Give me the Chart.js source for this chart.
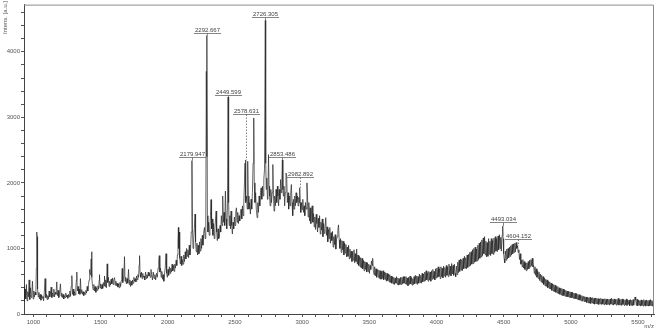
<!DOCTYPE html>
<html>
<head>
<meta charset="utf-8">
<script src="https://cdn.jsdelivr.net/npm/chart.js@4.4.0/dist/chart.umd.min.js"></script>
<style>
  html, body { margin: 0; padding: 0; background: #fff; }
  #caixa { width: 657px; height: 329px; position: relative; }
</style>
</head>
<body>
<div id="caixa"><canvas id="espectro"></canvas></div>
<script>
// espectro: pares [m/z, intensidade]
const faixa1 = [
  [930,420],[933,190],[938,380],[943,230],[948,450],[953,200],[958,340],[963,260],[968,520],
  [973,220],[978,400],[983,250],[988,300],[993,500],[998,230],[1003,350],[1008,260],[1013,330],[1018,290],
  [1022,700],[1025,1250],[1028,1180],[1031,380],[1036,260],[1041,330],[1046,230],[1051,300],[1056,210],[1061,290],
  [1066,240],[1071,270],[1076,200],[1081,330],[1087,540],[1092,250],[1097,300],[1102,220],[1107,280],[1112,230],
  [1117,350],[1122,260],[1127,300],[1132,410],[1137,250],[1142,320],[1147,270],[1152,380],[1157,260],[1162,330],
  [1168,300],[1174,490],[1179,280],[1184,360],[1189,250],[1195,330],[1201,460],[1206,270],[1211,320],[1216,250],
  [1221,300],[1226,230],[1231,280],[1236,250],[1241,320],[1246,260],[1251,290],[1256,240],[1261,300],[1266,260],
  [1271,350],[1276,270],[1281,420],[1286,585],[1291,300],[1296,380],[1301,280],[1306,340],[1311,290],[1316,400],
  [1320,520],[1323,640],[1327,350],[1332,420],[1337,310],[1342,380],[1346,300],[1350,540],[1355,320],[1360,370],
  [1365,300],[1370,340],[1375,280],[1380,330],[1385,300],[1390,360],[1395,320],[1400,420],[1405,350],[1410,450],
  [1415,520],[1419,680],[1423,600],[1427,700],[1430,840],[1433,950],[1436,560],[1440,420],[1445,370],[1450,450],
  [1455,350],[1460,420],[1465,330],[1470,400],[1475,360],[1480,430],[1485,380],[1490,520],[1492,600],[1496,400],
  [1501,460],[1506,380],[1511,450],[1516,390],[1521,480],[1526,430],[1529,580],[1533,420],[1538,520],[1543,400],
  [1549,765],[1553,480],[1558,560],[1563,420],[1568,500],[1573,440],[1578,530],[1583,460],[1588,550],[1593,450],
  [1598,520],[1604,555],[1609,440],[1614,500],[1619,430],[1624,470],[1629,410],[1634,460],[1639,400],[1644,480],
  [1649,420],[1654,510],[1658,600],[1661,695],[1665,480],[1670,560],[1674,620],[1678,875],[1682,500],[1687,560],
  [1692,460],[1697,540],[1702,470],[1708,680],[1713,450],[1718,520],[1723,420],[1728,500],[1733,440],[1738,520],
  [1743,470],[1748,560],[1753,500],[1758,540],[1763,490],[1768,580],[1773,520],[1778,600],[1783,560],[1787,750],
  [1790,890],[1794,620],[1799,560],[1804,640],[1809,540],[1814,620],[1819,560],[1824,580],[1829,520],[1835,640],
  [1840,540],[1845,600],[1850,550],[1855,640],[1860,580],[1865,620],[1870,560],[1875,680]
];

const faixa2 = [
  [1880,600],[1886,520],[1892,640],[1898,540],[1904,600],[1910,520],[1916,620],[1922,560],[1928,700],[1933,820],
  [1937,890],[1941,640],[1946,700],[1951,560],[1956,650],[1961,530],[1966,600],[1971,500],[1976,620],[1981,700],
  [1987,920],[1992,620],[1997,560],[2002,680],[2007,590],[2012,720],[2017,620],[2022,700],[2027,640],[2032,760],
  [2037,660],[2042,740],[2047,650],[2052,760],[2057,700],[2062,820],[2067,740],[2072,900],[2076,1100],[2079,1320],
  [2082,1000],[2085,1250],[2089,850],[2094,760],[2099,880],[2104,740],[2109,830],[2114,760],[2119,900],[2124,800],
  [2130,950],[2135,840],[2140,1000],[2145,880],[2150,980],[2155,860],[2160,1050],[2165,900],[2170,1000],[2175,1250],
  [2180,2340],[2184,1300],[2188,1000],[2193,1150],[2198,1300],[2203,1525],[2207,1100],[2212,950],[2217,1080],[2222,900],
  [2227,1050],[2232,920],[2237,1100],[2242,960],[2247,1150],[2252,1000],[2257,1200],[2262,1050],[2268,1250],[2273,1320],
  [2278,1150],[2283,1400],[2287,3700],[2290,2400],[2292,4250],[2295,1500],[2299,1250],[2304,1400],[2309,1200],[2314,1350],
  [2318,1500],[2322,1745],[2326,1300],[2331,1450],[2336,1200],[2341,1380],[2346,1150],[2351,1300],[2356,1450],[2360,1570],
  [2364,1250],[2369,1120],[2374,1300],[2379,1150],[2384,1170],[2389,1350],[2394,1250],[2399,1500],[2404,1350],[2409,1800],
  [2414,1400],[2419,1550],[2424,1350],[2429,1875],[2434,1450],[2439,1300],[2444,1600],[2449,3310],[2453,1700],[2457,1350],
  [2462,1500],[2467,1300],[2471,1570],[2476,1350],[2481,1220],[2486,1400],[2491,1300],[2496,1480],[2501,1350],[2506,1550],
  [2511,1620],[2516,1400],[2521,1550],[2526,1380],[2531,1500],[2536,1420],[2541,1550],[2546,1600],[2551,1450],[2556,1650],
  [2561,1500],[2566,1700],[2571,2000],[2575,2300],[2578,2350],[2582,1700],[2587,1800],[2591,1600],[2595,2330],[2599,1800],
  [2604,1600],[2609,1700],[2615,1525],[2620,1750],[2625,1600],[2630,1850],[2635,2300],[2640,2990],[2644,2000],[2649,1700],
  [2654,1850],[2659,1600],[2665,1470],[2670,1700],[2675,1550],[2680,1800],[2685,1650],[2690,1850],[2695,1925],[2700,1750],
  [2705,1950],[2710,1800],[2715,2050],[2720,2200],[2726,4480],[2729,2300],[2733,1900],[2737,2075],[2742,1750],[2746,1900],
  [2750,2430],[2754,1950],[2758,1800],[2762,1650],[2767,1900],[2772,1700],[2777,1850],[2782,2280],[2786,1850],[2791,1570],
  [2796,1800],[2801,1650],[2806,1900],[2811,1700],[2816,1950],[2820,1800],[2825,1650],[2830,1900]
];

const faixa3 = [
  [2835,1750],[2840,2050],[2845,1850],[2849,2000],[2853,2350],[2857,1900],[2861,1800],[2865,1950],[2870,1650],[2875,1850],
  [2880,2150],[2885,2120],[2890,1700],[2895,1850],[2900,1600],[2905,1800],[2910,1650],[2915,1850],[2920,1975],[2925,1700],
  [2930,1500],[2935,1750],[2940,1600],[2945,1800],[2950,1650],[2955,1850],[2960,1700],[2965,1800],[2970,1650],[2975,1780],
  [2979,1700],[2982,1925],[2986,1700],[2990,1550],[2995,1700],[3000,1595],[3005,1750],[3010,1550],[3015,1650],[3020,1500],
  [3025,1700],[3030,1600],[3036,2000],[3040,1800],[3045,1480],[3050,1700],[3055,1420],[3060,1620],[3065,1380],[3070,1560],
  [3075,1650],[3080,1400],[3085,1530],[3090,1330],[3095,1480],[3100,1290],[3105,1520],[3110,1380],[3115,1250],[3120,1460],
  [3125,1320],[3130,1500],[3135,1220],[3140,1400],[3145,1280],[3150,1450],[3155,1180],[3160,1380],[3165,1230],[3170,1300],
  [3176,1470],[3181,1200],[3186,1330],[3191,1100],[3196,1290],[3201,1150],[3206,1320],[3211,1080],[3216,1240],[3221,1120],
  [3226,1260],[3231,1020],[3236,1180],[3241,1060],[3246,1210],[3251,990],[3256,1130],[3261,1180],[3266,1280],[3271,1360],
  [3276,1130],[3281,1000],[3286,1150],[3291,940],[3296,1120],[3301,980],[3306,1110],[3311,900],[3316,1080],[3321,930],
  [3326,1060],[3331,870],[3336,1020],[3341,880],[3346,1050],[3351,840],[3356,990],[3361,860],[3366,960],[3371,800],
  [3376,950],[3381,820],[3386,980],[3391,780],[3396,920],[3401,800],[3406,990],[3411,760],[3416,900],[3421,740],
  [3426,880],[3431,720],[3436,860],[3441,700],[3446,850],[3451,690],[3456,820],[3461,660],[3466,800],[3471,680],
  [3476,790],[3481,640],[3486,780],[3491,650],[3496,760],[3501,620],[3506,740],[3511,680],[3516,810],[3521,740],
  [3525,850],[3530,660],[3535,600],[3540,720],[3545,580],[3550,690],[3555,560],[3562,680],[3567,560],[3572,670],
  [3577,540],[3582,660],[3587,530],[3592,650],[3597,540],[3602,660],[3607,520],[3612,640],[3617,530],[3622,630],
  [3627,500],[3632,620],[3637,510],[3642,610],[3647,490],[3652,600],[3657,480],[3662,580],[3667,470],[3672,570],
  [3677,460],[3682,560],[3687,450],[3692,550],[3698,470],[3703,570],[3708,450],[3713,550],[3718,440],[3723,540],
  [3728,450],[3733,560],[3738,450],[3743,560],[3748,460],[3753,570],[3758,470],[3763,570]
];

const faixa4 = [
  [3768,460],[3773,570],[3778,450],[3783,550],[3788,430],[3793,560],[3798,450],[3803,580],[3808,460],[3813,560],
  [3818,440],[3823,540],[3828,450],[3833,570],[3838,460],[3843,590],[3848,470],[3853,580],[3858,450],[3863,570],
  [3868,470],[3873,610],[3878,480],[3883,590],[3888,470],[3893,620],[3898,490],[3903,610],[3908,500],[3913,640],
  [3918,510],[3923,660],[3928,520],[3933,630],[3938,500],[3943,650],[3948,520],[3953,640],[3958,500],[3963,660],
  [3968,530],[3973,680],[3978,540],[3983,650],[3988,520],[3993,690],[3998,550],[4003,700],[4008,560],[4013,720],
  [4018,570],[4023,690],[4028,540],[4033,720],[4038,570],[4043,700],[4048,550],[4053,730],[4058,580],[4063,710],
  [4068,560],[4073,740],[4078,590],[4083,720],[4088,570],[4093,760],[4098,600],[4103,730],[4108,580],[4113,770],
  [4118,610],[4123,740],[4128,590],[4133,760],[4138,620],[4143,570],[4148,730],[4153,600],[4158,790],[4163,630],
  [4168,820],[4173,650],[4178,840],[4183,670],[4188,830],[4193,660],[4198,850],[4203,690],[4208,880],[4213,700],
  [4218,860],[4223,690],[4228,900],[4233,710],[4238,910],[4243,730],[4248,940],[4253,740],[4258,950],[4263,760],
  [4268,980],[4273,770],[4278,1000],[4283,790],[4288,1020],[4293,800],[4298,990],[4303,810],[4308,1050],[4313,830],
  [4318,1080],[4323,850],[4328,1100],[4333,870],[4338,1130],[4343,890],[4348,1160],[4353,920],[4358,1180],[4363,900],
  [4368,1110],[4373,870],[4378,1090],[4383,880],[4388,1150],[4393,910],[4398,1110],[4403,890],[4408,1150],[4413,920],
  [4418,1120],[4423,910],[4428,1160],[4433,940],[4438,1180],[4443,960],[4448,1150],[4453,950],[4458,1190],[4463,980],
  [4468,1210],[4473,1000],[4478,1170],[4483,960],[4488,1200],[4493,1340],[4496,1150],[4500,920],[4504,840],[4508,780],
  [4513,960],[4518,820],[4523,990],[4528,840],[4533,1000],[4538,860],[4543,1020],[4548,880],[4553,1040],[4558,900],
  [4563,1060],[4568,920],[4573,1070],[4578,940],[4583,1080],[4588,950],[4593,1090],[4598,1000],[4604,1040],[4608,940],
  [4613,980],[4618,830],[4623,920],[4628,760],[4633,820],[4638,720],[4643,830],[4648,700],[4653,800],[4658,680],
  [4663,780],[4668,660],[4673,780],[4678,680],[4683,800],[4688,690],[4693,820],[4698,720],[4703,830],[4708,740],
  [4713,850],[4718,720]
];

const faixa5 = [
  [4723,740],[4728,620],[4733,720],[4738,590],[4743,690],[4748,560],[4753,660],[4758,540],[4763,640],[4768,510],
  [4773,610],[4778,490],[4783,590],[4788,470],[4793,570],[4798,450],[4803,550],[4808,430],[4813,530],[4818,420],
  [4823,520],[4828,400],[4833,500],[4838,390],[4843,490],[4848,380],[4853,470],[4858,360],[4863,460],[4868,350],
  [4873,450],[4878,340],[4883,440],[4888,330],[4893,420],[4898,320],[4903,420],[4908,310],[4913,400],[4918,300],
  [4923,390],[4928,290],[4933,390],[4938,280],[4943,380],[4948,280],[4953,370],[4958,270],[4963,360],[4968,265],
  [4973,350],[4978,260],[4983,345],[4988,255],[4993,340],[4998,250],[5003,335],[5008,245],[5013,330],[5018,240],
  [5023,320],[5028,235],[5033,315],[5038,230],[5043,310],[5048,225],[5053,300],[5058,215],[5063,295],[5068,210],
  [5073,285],[5078,200],[5083,280],[5088,195],[5093,270],[5098,190],[5103,265],[5108,185],[5113,260],[5118,175],
  [5123,255],[5128,170],[5133,250],[5138,165],[5143,255],[5148,160],[5153,245],[5158,170],[5163,250],[5168,155],
  [5173,240],[5178,150],[5183,245],[5188,160],[5193,240],[5198,150],[5203,235],[5208,145],[5213,230],[5218,155],
  [5223,240],[5228,145],[5233,230],[5238,150],[5243,225],[5248,140],[5253,235],[5258,150],[5263,225],[5268,140],
  [5273,230],[5278,150],[5283,225],[5288,135],[5293,230],[5298,150],[5303,240],[5308,145],[5313,225],[5318,135],
  [5323,230],[5328,150],[5333,220],[5338,135],[5343,225],[5348,145],[5353,240],[5358,135],[5363,220],[5368,140],
  [5373,225],[5378,130],[5383,230],[5388,145],[5393,220],[5398,130],[5403,215],[5408,140],[5413,230],[5418,130],
  [5423,215],[5428,145],[5433,210],[5438,125],[5443,220],[5448,135],[5453,210],[5458,125],[5463,220],[5468,135],
  [5473,215],[5478,260],[5483,210],[5488,130],[5493,225],[5498,125],[5503,210],[5508,135],[5513,205],[5518,120],
  [5523,215],[5528,130],[5533,205],[5538,120],[5543,220],[5548,130],[5553,205],[5558,120],[5563,215],[5568,130],
  [5573,205],[5578,120],[5583,210],[5588,125],[5593,220],[5598,130],[5603,205],[5608,120],[5613,200],[5618,135]
];

// rótulos dos picos
const picoRotulos = ['2179.947', '2292.667', '2449.599', '2578.631', '2726.305', '2853.486', '2982.892', '4493.034', '4604.152'];
const picoTopo = [2340, 4250, 3310, 2350, 4480, 2350, 1925, 1340, 1040];
const picoLinhaRotulo = [2400, 4290, 3340, 3050, 4530, 2390, 2085, 1405, 1150];
const picoTracejado = [false, false, false, true, false, false, true, false, true];

const fonte = '"Liberation Sans", Arial, sans-serif';

const espectro = faixa1.concat(faixa2, faixa3, faixa4, faixa5).map(p => ({ x: p[0], y: p[1] }));

// desenha moldura, rótulos dos picos e títulos dos eixos
const extras = {
  id: 'extras',
  afterDatasetsDraw(chart) {
    const { ctx, chartArea: a, scales: { x, y } } = chart;
    ctx.save();

    ctx.strokeStyle = '#8c8c8c';
    ctx.lineWidth = 1;
    ctx.beginPath();
    ctx.moveTo(a.left, a.top + 0.5);
    ctx.lineTo(a.right - 0.5, a.top + 0.5);
    ctx.lineTo(a.right - 0.5, a.bottom);
    ctx.stroke();

    ctx.font = '6px ' + fonte;
    ctx.textAlign = 'center';
    ctx.textBaseline = 'alphabetic';
    for (let i = 0; i < picoRotulos.length; i++) {
      const px = Math.round(x.getPixelForValue(parseFloat(picoRotulos[i]))) + 0.5;
      const ly = Math.round(y.getPixelForValue(picoLinhaRotulo[i])) + 0.5;
      const py = y.getPixelForValue(picoTopo[i]);
      const w = ctx.measureText(picoRotulos[i]).width;
      ctx.fillStyle = '#444';
      ctx.fillText(picoRotulos[i], px, ly - 1.5);
      ctx.strokeStyle = '#666';
      ctx.lineWidth = 0.8;
      ctx.setLineDash([]);
      ctx.beginPath();
      ctx.moveTo(px - w / 2 - 1, ly);
      ctx.lineTo(px + w / 2 + 1, ly);
      ctx.stroke();
      ctx.setLineDash(picoTracejado[i] ? [1.5, 1.5] : []);
      ctx.beginPath();
      ctx.moveTo(px, ly);
      ctx.lineTo(px, py);
      ctx.stroke();
    }
    ctx.setLineDash([]);

    ctx.fillStyle = '#555';
    ctx.font = '6px ' + fonte;
    ctx.textAlign = 'right';
    ctx.textBaseline = 'bottom';
    ctx.fillText('m/z', a.right, 329);

    ctx.translate(5, 1);
    ctx.rotate(-Math.PI / 2);
    ctx.textAlign = 'right';
    ctx.textBaseline = 'middle';
    ctx.fillText('Intens. [a.u.]', 0, 0);

    ctx.restore();
  }
};

new Chart(document.getElementById('espectro'), {
  type: 'line',
  data: {
    datasets: [{
      label: 'espectro',
      data: espectro,
      borderColor: '#262626',
      borderWidth: 0.7,
      pointRadius: 0,
      tension: 0,
      fill: false
    }]
  },
  options: {
    responsive: true,
    maintainAspectRatio: false,
    animation: false,
    devicePixelRatio: 1,
    layout: { padding: { top: 1, right: 3, left: 0, bottom: 0 } },
    plugins: { legend: { display: false }, tooltip: { enabled: false } },
    scales: {
      x: {
        type: 'linear',
        min: 930,
        max: 5619,
        afterFit: s => { s.height = 15; },
        border: { display: true, color: '#444', width: 1 },
        grid: { drawOnChartArea: false, drawTicks: true, tickLength: 3, color: '#555' },
        ticks: {
          stepSize: 100,
          includeBounds: false,
          autoSkip: false,
          maxTicksLimit: 100,
          maxRotation: 0,
          minRotation: 0,
          padding: 2,
          color: '#555',
          font: { size: 6, family: fonte },
          callback: v => (v % 500 === 0 ? String(v) : '')
        }
      },
      y: {
        min: 0,
        max: 4720,
        afterFit: s => { s.width = 24; },
        border: { display: true, color: '#444', width: 1 },
        grid: { drawOnChartArea: false, drawTicks: true, tickLength: 3, color: '#555' },
        ticks: {
          stepSize: 200,
          includeBounds: false,
          autoSkip: false,
          maxTicksLimit: 100,
          padding: 1,
          color: '#555',
          font: { size: 6, family: fonte },
          callback: v => (v % 1000 === 0 ? String(v) : '')
        }
      }
    }
  },
  plugins: [extras]
});
</script>
</body>
</html>
